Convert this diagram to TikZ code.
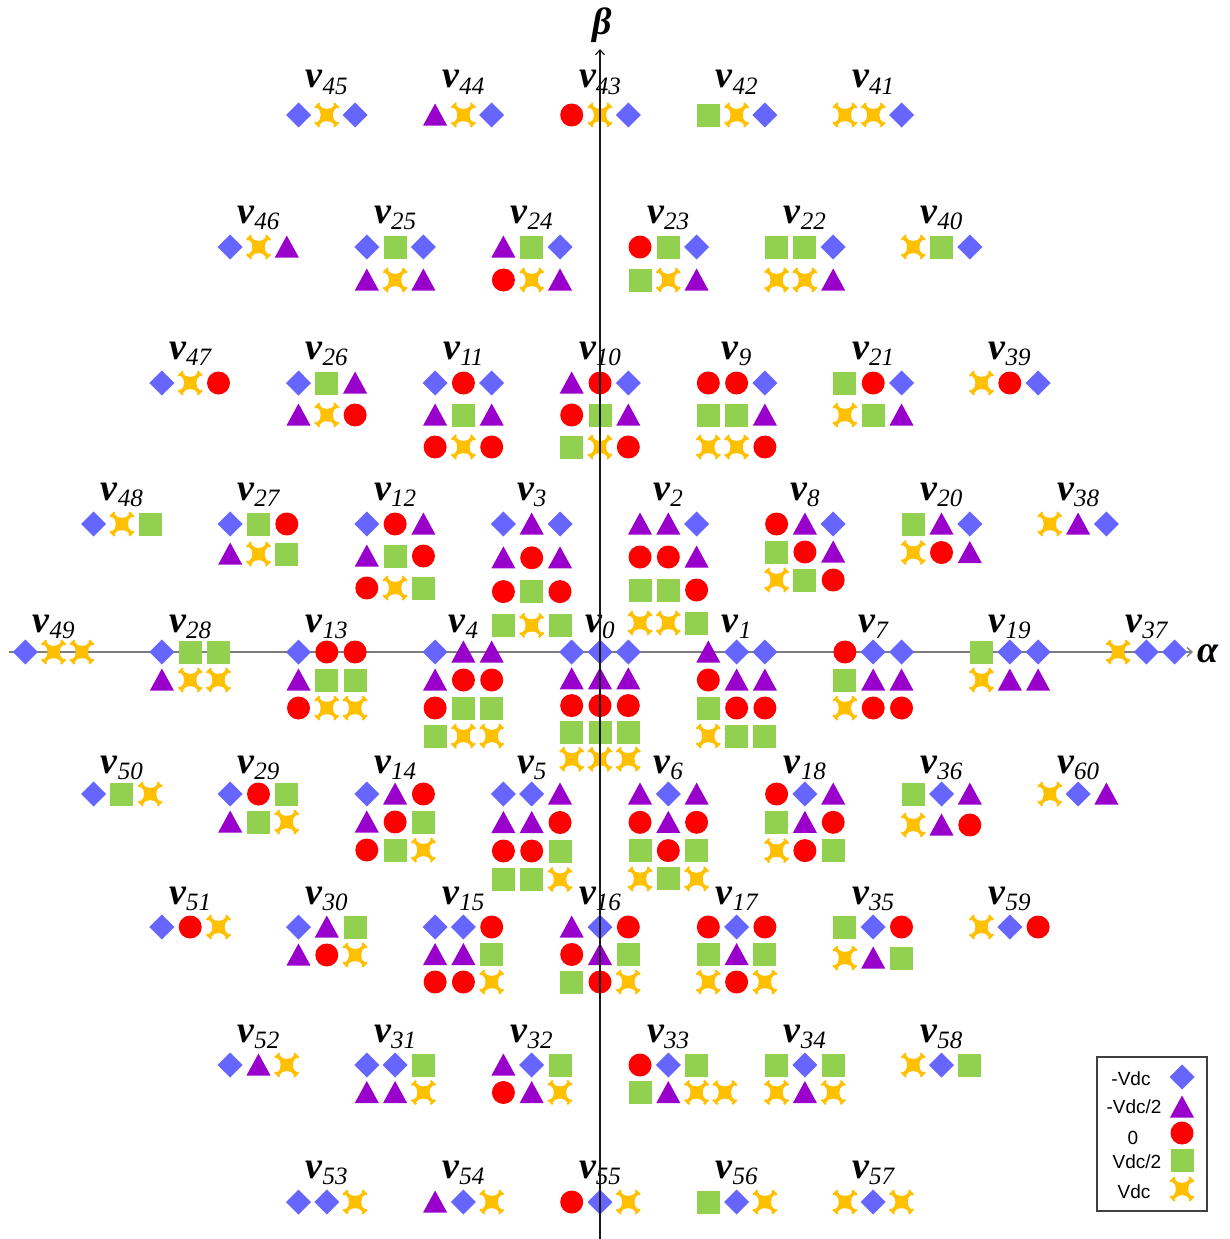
\documentclass[tikz,border=0pt]{standalone}
\usepackage{fontspec}
\setmainfont{Liberation Serif}
\newfontfamily\lsans{Liberation Sans}
\usetikzlibrary{arrows.meta}
\definecolor{cD}{RGB}{102,102,255}
\definecolor{cT}{RGB}{153,0,204}
\definecolor{cC}{RGB}{255,0,0}
\definecolor{cS}{RGB}{146,208,80}
\definecolor{cX}{RGB}{255,192,0}
\definecolor{axgray}{RGB}{125,125,125}
\newcommand\symD{\fill[cD] (0,-12.5) -- (12.5,0) -- (0,12.5) -- (-12.5,0) -- cycle;}
\newcommand\symT{\fill[cT] (0,-11.5) -- (12,10.5) -- (-12,10.5) -- cycle;}
\newcommand\symC{\fill[cC] (0,0) circle (11.5);}
\newcommand\symS{\fill[cS] (-11.5,-11.5) rectangle (11.5,11.5);}
\newcommand\symX{%
 \fill[cX] (-9.5,-9.5) .. controls (-3,-5) and (3,-5) .. (9.5,-9.5) .. controls (5,-3) and (5,3) .. (9.5,9.5) .. controls (3,5) and (-3,5) .. (-9.5,9.5) .. controls (-5,3) and (-5,-3) .. (-9.5,-9.5) -- cycle;
 \draw[cX, line width=3.6] (-9.5,-9.5) -- (9.5,9.5) (9.5,-9.5) -- (-9.5,9.5);
 \draw[cX, line width=2] (-11.8,-7.2) -- (-7.2,-11.8) (7.2,-11.8) -- (11.8,-7.2) (11.8,7.2) -- (7.2,11.8) (-7.2,11.8) -- (-11.8,7.2);
}
\newcommand\subf{\fontsize{25}{25}\selectfont\mdseries\itshape}
% #1 number, #2 grid index k, #3 first row y, #4 label baseline y, #5 row step, #6 rows
\newcommand\vgrp[6]{%
  \node[vlab] (v#1) at ({600+(#2)*68.3},#4) {v\raisebox{-6pt}{\subf #1}};
  \foreach \rw [count=\rr] in {#6} {
    \foreach \sy [count=\cc] in \rw {
      \pgfmathsetmacro\px{600+(#2)*68.3+(\cc-2)*28.3}
      \pgfmathsetmacro\py{#3+(\rr-1)*(#5)}
      \begin{scope}[shift={(\px,\py)}]\csname sym\sy\endcsname\end{scope}
    }
  }
}
\begin{document}
\begin{tikzpicture}[x=1pt,y=-1pt,
  vlab/.style={anchor=base, inner sep=0pt, font=\fontsize{38}{40}\selectfont\bfseries\itshape},
  axlab/.style={anchor=base, inner sep=0pt, font=\fontsize{38}{40}\selectfont\bfseries\itshape},
  legtxt/.style={anchor=base, inner sep=0pt, font=\lsans\fontsize{19}{20}\selectfont}]
\useasboundingbox (0,0) rectangle (1230,1239);
\fill[white] (0,0) rectangle (1230,1239);
% alpha axis (under the symbols)
\coordinate (aS) at (9,652);
\coordinate (aE) at (1193,652);
\draw[axgray, line width=1.4, -{Straight Barb[length=5pt,width=9pt]}] (aS) -- (aE);
\node[axlab] (alpha) at (1208,662) {α};
% row 0
\vgrp{45}{-4}{115}{88}{32}{{D,X,D}}
\vgrp{44}{-2}{115}{88}{32}{{T,X,D}}
\vgrp{43}{0}{115}{88}{32}{{C,X,D}}
\vgrp{42}{2}{115}{88}{32}{{S,X,D}}
\vgrp{41}{4}{115}{88}{32}{{X,X,D}}
% row 1
\vgrp{46}{-5}{247}{223}{33}{{D,X,T}}
\vgrp{25}{-3}{247}{223}{33}{{D,S,D},{T,X,T}}
\vgrp{24}{-1}{247}{223}{33}{{T,S,D},{C,X,T}}
\vgrp{23}{1}{247}{223}{33}{{C,S,D},{S,X,T}}
\vgrp{22}{3}{247}{223}{33}{{S,S,D},{X,X,T}}
\vgrp{40}{5}{247}{223}{33}{{X,S,D}}
% row 2
\vgrp{47}{-6}{383}{359}{32}{{D,X,C}}
\vgrp{26}{-4}{383}{359}{32}{{D,S,T},{T,X,C}}
\vgrp{11}{-2}{383}{359}{32}{{D,C,D},{T,S,T},{C,X,C}}
\vgrp{10}{0}{383}{359}{32}{{T,C,D},{C,S,T},{S,X,C}}
\vgrp{9}{2}{383}{359}{32}{{C,C,D},{S,S,T},{X,X,C}}
\vgrp{21}{4}{383}{359}{32}{{S,C,D},{X,S,T}}
\vgrp{39}{6}{383}{359}{32}{{X,C,D}}
% row 3
\vgrp{48}{-7}{524}{500}{30}{{D,X,S}}
\vgrp{27}{-5}{524}{500}{30}{{D,S,C},{T,X,S}}
\vgrp{12}{-3}{524}{500}{32}{{D,C,T},{T,S,C},{C,X,S}}
\vgrp{3}{-1}{524}{500}{33.8}{{D,T,D},{T,C,T},{C,S,C},{S,X,S}}
\vgrp{2}{1}{524}{500}{33}{{T,T,D},{C,C,T},{S,S,C},{X,X,S}}
\vgrp{8}{3}{524}{500}{28}{{C,T,D},{S,C,T},{X,S,C}}
\vgrp{20}{5}{524}{500}{28.5}{{S,T,D},{X,C,T}}
\vgrp{38}{7}{524}{500}{28}{{X,T,D}}
% row 4 (on the alpha axis)
\vgrp{49}{-8}{652}{632}{28}{{D,X,X}}
\vgrp{28}{-6}{652}{632}{28}{{D,S,S},{T,X,X}}
\vgrp{13}{-4}{652}{632}{28}{{D,C,C},{T,S,S},{C,X,X}}
\vgrp{4}{-2}{652}{632}{28}{{D,T,T},{T,C,C},{C,S,S},{S,X,X}}
\vgrp{0}{0}{652}{632}{26.8}{{D,D,D},{T,T,T},{C,C,C},{S,S,S},{X,X,X}}
\vgrp{1}{2}{652}{632}{28}{{T,D,D},{C,T,T},{S,C,C},{X,S,S}}
\vgrp{7}{4}{652}{632}{28}{{C,D,D},{S,T,T},{X,C,C}}
\vgrp{19}{6}{652}{632}{28}{{S,D,D},{X,T,T}}
\vgrp{37}{8}{652}{632}{28}{{X,D,D}}
% row 5
\vgrp{50}{-7}{794}{773}{28}{{D,S,X}}
\vgrp{29}{-5}{794}{773}{28}{{D,C,S},{T,S,X}}
\vgrp{14}{-3}{794}{773}{28}{{D,T,C},{T,C,S},{C,S,X}}
\vgrp{5}{-1}{794}{773}{28.5}{{D,D,T},{T,T,C},{C,C,S},{S,S,X}}
\vgrp{6}{1}{794}{773}{28.3}{{T,D,T},{C,T,C},{S,C,S},{X,S,X}}
\vgrp{18}{3}{794}{773}{28.3}{{C,D,T},{S,T,C},{X,C,S}}
\vgrp{36}{5}{794}{773}{31}{{S,D,T},{X,T,C}}
\vgrp{60}{7}{794}{773}{28}{{X,D,T}}
% row 6
\vgrp{51}{-6}{927}{904}{28}{{D,C,X}}
\vgrp{30}{-4}{927}{904}{28}{{D,T,S},{T,C,X}}
\vgrp{15}{-2}{927}{904}{27.5}{{D,D,C},{T,T,S},{C,C,X}}
\vgrp{16}{0}{927}{904}{27.5}{{T,D,C},{C,T,S},{S,C,X}}
\vgrp{17}{2}{927}{904}{27.5}{{C,D,C},{S,T,S},{X,C,X}}
\vgrp{35}{4}{927}{904}{31}{{S,D,C},{X,T,S}}
\vgrp{59}{6}{927}{904}{28}{{X,D,C}}
% row 7
\vgrp{52}{-5}{1065}{1042}{27.5}{{D,T,X}}
\vgrp{31}{-3}{1065}{1042}{27.5}{{D,D,S},{T,T,X}}
\vgrp{32}{-1}{1065}{1042}{27.5}{{T,D,S},{C,T,X}}
\vgrp{33}{1}{1065}{1042}{27.5}{{C,D,S},{S,T,X,X}}
\vgrp{34}{3}{1065}{1042}{27.5}{{S,D,S},{X,T,X}}
\vgrp{58}{5}{1065}{1042}{27.5}{{X,D,S}}
% row 8
\vgrp{53}{-4}{1202}{1178}{28}{{D,D,X}}
\vgrp{54}{-2}{1202}{1178}{28}{{T,D,X}}
\vgrp{55}{0}{1202}{1178}{28}{{C,D,X}}
\vgrp{56}{2}{1202}{1178}{28}{{S,D,X}}
\vgrp{57}{4}{1202}{1178}{28}{{X,D,X}}
% beta axis (over the symbols)
\coordinate (bS) at (600,1239);
\coordinate (bE) at (600,49);
\draw[black!90, line width=1.2, -{Straight Barb[length=5pt,width=9pt]}] (bS) -- (bE);
\node[axlab] (beta) at (602,35) {β};
% legend
\draw[black!75, line width=1.3] (1097,1057) rectangle (1207,1211);
\node[legtxt] (l1) at (1131,1085) {-Vdc};
\node[legtxt] (l2) at (1134,1113) {-Vdc/2};
\node[legtxt] (l3) at (1133,1144) {0};
\node[legtxt] (l4) at (1137,1168) {Vdc/2};
\node[legtxt] (l5) at (1134,1198) {Vdc};
\begin{scope}[shift={(1182,1077)}]\symD\end{scope}
\begin{scope}[shift={(1182,1107)}]\symT\end{scope}
\begin{scope}[shift={(1182,1133)}]\symC\end{scope}
\begin{scope}[shift={(1182,1160)}]\symS\end{scope}
\begin{scope}[shift={(1182,1189)}]\symX\end{scope}
\end{tikzpicture}
\end{document}
